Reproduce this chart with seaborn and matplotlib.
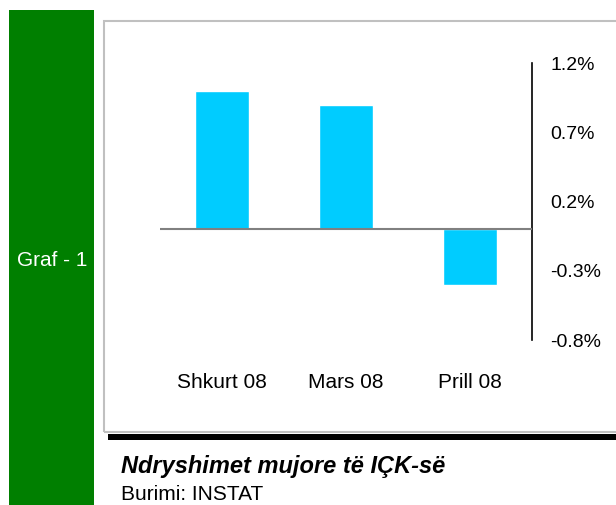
import pandas as pd
import matplotlib.pyplot as plt
import seaborn as sns
from matplotlib.patches import Rectangle

months = ["Shkurt 08", "Mars 08", "Prill 08"]
change_pct = [1.0, 0.9, -0.4]
y_ticks = [-0.8, -0.3, 0.2, 0.7, 1.2]

df = pd.DataFrame({"month": months, "change": change_pct})

sns.set_style("white")
plt.rcParams["font.family"] = ["Liberation Sans", "DejaVu Sans"]
plt.rcParams["text.color"] = "black"
plt.rcParams["xtick.color"] = "black"
plt.rcParams["ytick.color"] = "black"

W, H = 616, 505
fig = plt.figure(figsize=(W / 100, H / 100), dpi=100)


def fx(px):
    return px / W


def fy(py):
    return 1 - py / H


# green side band
fig.patches.append(Rectangle((fx(9), fy(505)), fx(94) - fx(9), fy(10) - fy(505),
                             transform=fig.transFigure, facecolor="#007f00",
                             edgecolor="none", zorder=0))
fig.text(fx(52), fy(260), "Graf - 1", color="white", fontsize=15,
         ha="center", va="center")

# light frame around the chart
fig.patches.append(Rectangle((fx(104), fy(432)), fx(640) - fx(104), fy(21) - fy(432),
                             transform=fig.transFigure, facecolor="none",
                             edgecolor="#c0c0c0", linewidth=1.5, zorder=0))
# thick black rule under the chart
fig.patches.append(Rectangle((fx(108), fy(440)), fx(616) - fx(108), fy(434) - fy(440),
                             transform=fig.transFigure, facecolor="black",
                             edgecolor="none", zorder=0))

ax = fig.add_axes([fx(160), fy(340), fx(532) - fx(160), fy(63) - fy(340)])
ax.patch.set_alpha(0)
sns.barplot(data=df, x="month", y="change", color="#00CCFF", width=0.44,
            saturation=1, ax=ax)
ax.axhline(0, color="#808080", linewidth=1.5, zorder=3)

ax.set_xlim(-0.5, 2.5)
ax.set_ylim(-0.8, 1.2)
ax.set_yticks(y_ticks)
ax.set_yticklabels([f"{v:.1f}%" for v in y_ticks])
ax.yaxis.tick_right()
ax.tick_params(axis="y", length=0, pad=13, labelsize=14)
ax.tick_params(axis="x", length=0, pad=24, labelsize=15)
ax.set_xlabel("")
ax.set_ylabel("")
for side in ["top", "bottom", "left"]:
    ax.spines[side].set_visible(False)
ax.spines["right"].set_color("black")
ax.spines["right"].set_linewidth(1.2)

fig.text(fx(121), fy(467), "Ndryshimet mujore të IÇK-së", fontsize=17,
         fontweight="bold", fontstyle="italic", ha="left", va="center")
fig.text(fx(121), fy(494), "Burimi: INSTAT", fontsize=15, ha="left", va="center")

plt.savefig("out.png", dpi=100)
plt.close()
